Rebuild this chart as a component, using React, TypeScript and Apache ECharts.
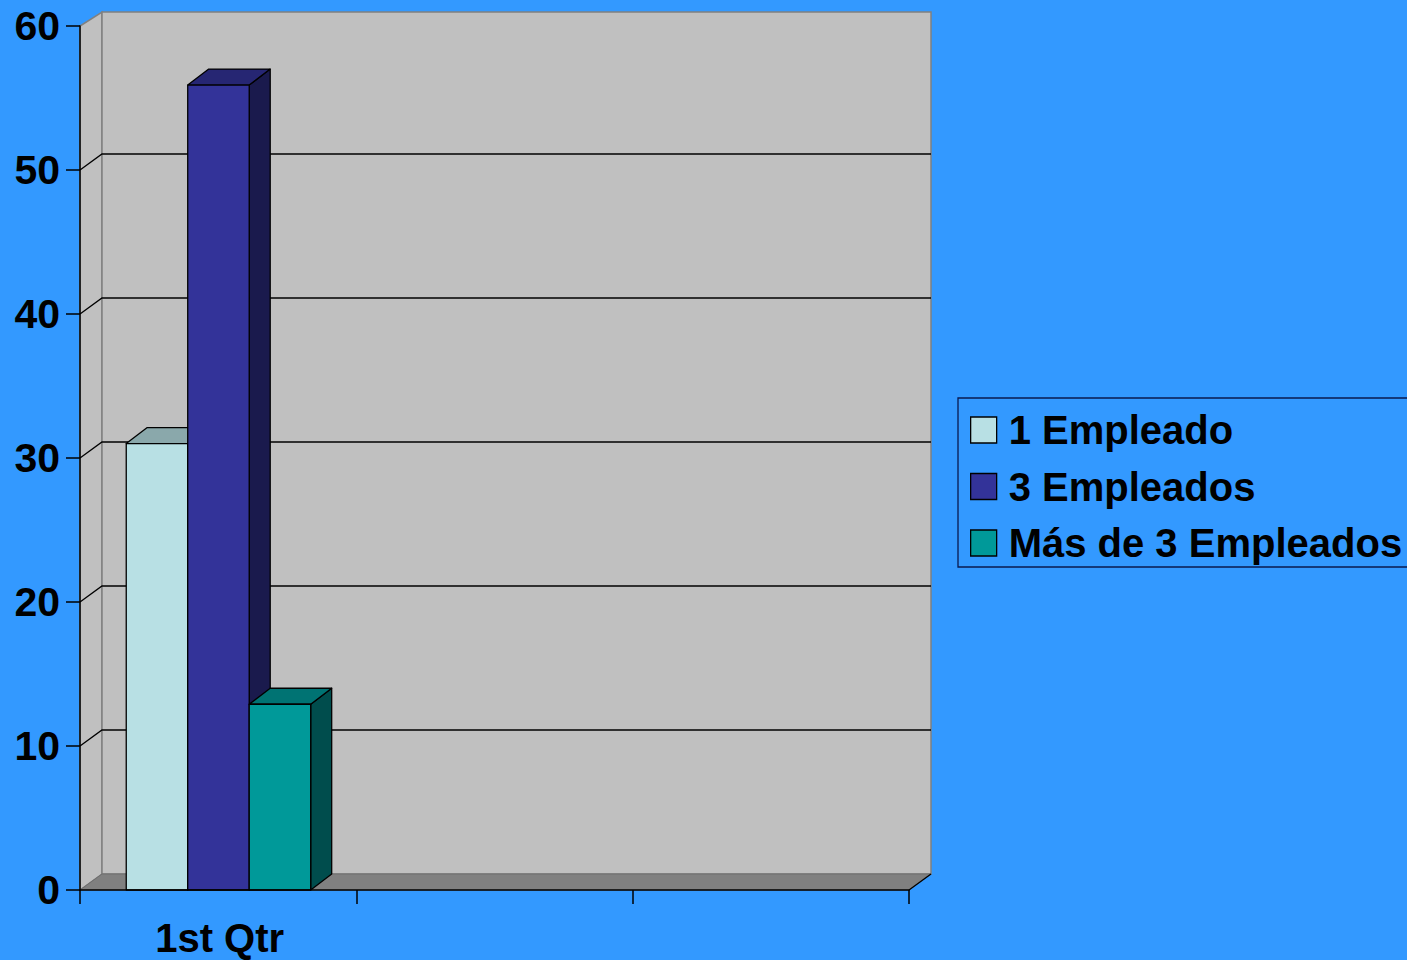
import React, { useEffect, useRef } from "react";
import * as echarts from "echarts";

const categories = ["1st Qtr", "", ""];
const yTicks = [0, 10, 20, 30, 40, 50, 60];
const seriesNames = ["1 Empleado", "3 Empleados", "Más de 3 Empleados"];
const seriesValues = [31, 55.9, 12.9];
const frontColors = ["#B8E0E4", "#333399", "#009999"];
const topColors = ["#8AA8AB", "#262673", "#007373"];
const sideColors = ["#5C7072", "#1A1A4D", "#004D4D"];

const DX = 22;
const BAR_DX = 21;
const DY = 16;
const FONT = "'Liberation Sans', Arial, sans-serif";

function wallsItem(_params: any, api: any) {
  const x0 = api.coord([0, 0])[0] - api.size([1, 0])[0] / 2;
  const x1 = x0 + api.size([1, 0])[0] * categories.length;
  const y0 = api.coord([0, 0])[1];
  const y1 = api.coord([0, 60])[1];
  const backTop = y1 - DY + 2;
  const wall = { stroke: "#808080", lineWidth: 1.5 };
  const children: any[] = [
    { type: "polygon", shape: { points: [[x0, y0], [x0 + DX, y0 - DY], [x0 + DX, backTop], [x0, y1]] }, style: { fill: "#C0C0C0", ...wall } },
    { type: "rect", shape: { x: x0 + DX, y: backTop, width: x1 - x0, height: y0 - DY - backTop }, style: { fill: "#C0C0C0", ...wall } },
    { type: "polygon", shape: { points: [[x0, y0], [x1, y0], [x1 + DX, y0 - DY], [x0 + DX, y0 - DY]] }, style: { fill: "#808080", stroke: "#6E6E6E", lineWidth: 1 } },
    { type: "line", shape: { x1, y1: y0, x2: x1 + DX, y2: y0 - DY }, style: { stroke: "#000000", lineWidth: 1.3 } },
  ];
  yTicks.filter((t) => t > 0 && t < 60).forEach((t) => {
    const y = api.coord([0, t])[1];
    children.push({ type: "polyline", shape: { points: [[x0, y], [x0 + DX, y - DY], [x1 + DX, y - DY]] }, style: { fill: "none", stroke: "#000000", lineWidth: 1.3 } });
  });
  return { type: "group", children };
}

function barItem(idx: number) {
  return (_params: any, api: any) => {
    const center = api.coord([api.value(0), 0])[0];
    const band = api.size([1, 0])[0];
    const w = band * 0.2225;
    const left = center + (idx - 1.5) * w + 0.3;
    const right = left + w;
    const yBase = api.coord([0, 0])[1];
    const yTop = api.coord([0, api.value(1)])[1];
    const edge = { stroke: "#000000", lineWidth: 1.3, lineJoin: "round" };
    return {
      type: "group",
      children: [
        { type: "polygon", shape: { points: [[right, yBase], [right + BAR_DX, yBase - DY], [right + BAR_DX, yTop - DY], [right, yTop]] }, style: { fill: sideColors[idx], ...edge } },
        { type: "polygon", shape: { points: [[left, yTop], [left + BAR_DX, yTop - DY], [right + BAR_DX, yTop - DY], [right, yTop]] }, style: { fill: topColors[idx], ...edge } },
        { type: "rect", shape: { x: left, y: yTop, width: w, height: yBase - yTop }, style: { fill: frontColors[idx], ...edge } },
      ],
    };
  };
}

export default function App() {
  const ref = useRef<HTMLDivElement>(null);
  useEffect(() => {
    const chart = echarts.init(ref.current!, undefined, { renderer: "svg" });
    chart.setOption({
      animation: false,
      backgroundColor: "#3399FF",
      grid: { left: 80, top: 26, width: 829, height: 864, containLabel: false },
      legend: {
        orient: "vertical",
        left: 958,
        top: 398,
        padding: [12, 12, 4, 12],
        itemWidth: 26,
        itemHeight: 26,
        itemGap: 16.5,
        icon: "rect",
        selectedMode: false,
        borderColor: "#0A1A50",
        borderWidth: 1.3,
        textStyle: { fontFamily: FONT, fontWeight: "bold", fontSize: 40, color: "#000000", padding: [0, 0, 0, 7] },
        data: seriesNames.map((name, i) => ({
          name,
          itemStyle: { color: frontColors[i], borderColor: "#000000", borderWidth: 1.3 },
        })),
      },
      xAxis: {
        type: "category",
        data: categories,
        z: 5,
        axisLine: { lineStyle: { color: "#000000", width: 1.5 } },
        axisTick: { show: true, length: 14, alignWithLabel: false, interval: 0, lineStyle: { color: "#000000", width: 1.5 } },
        axisLabel: { interval: 0, margin: 28, padding: [0, 0, 0, 3], fontFamily: FONT, fontWeight: "bold", fontSize: 40, color: "#000000" },
        splitLine: { show: false },
      },
      yAxis: {
        type: "value",
        min: 0,
        max: 60,
        interval: 10,
        z: 5,
        axisLine: { show: true, lineStyle: { color: "#000000", width: 1.5 } },
        axisTick: { show: true, length: 14, lineStyle: { color: "#000000", width: 1.5 } },
        axisLabel: { margin: 20, padding: [4, 0, 0, 0], fontFamily: FONT, fontWeight: "bold", fontSize: 41, color: "#000000" },
        splitLine: { show: false },
      },
      series: [
        { type: "custom", name: "walls", silent: true, renderItem: wallsItem, data: [[0, 0]], encode: { x: 0, y: 1 } },
        ...seriesNames.map((name, i) => ({
          type: "custom",
          name,
          silent: true,
          renderItem: barItem(i),
          itemStyle: { color: frontColors[i] },
          data: [[0, seriesValues[i]]],
          encode: { x: 0, y: 1 },
        })),
      ],
    });
    return () => chart.dispose();
  }, []);
  return (
    <div
      ref={ref}
      style={{ position: "fixed", left: 0, top: 0, width: 1407, height: 960, overflow: "hidden" }}
    />
  );
}
